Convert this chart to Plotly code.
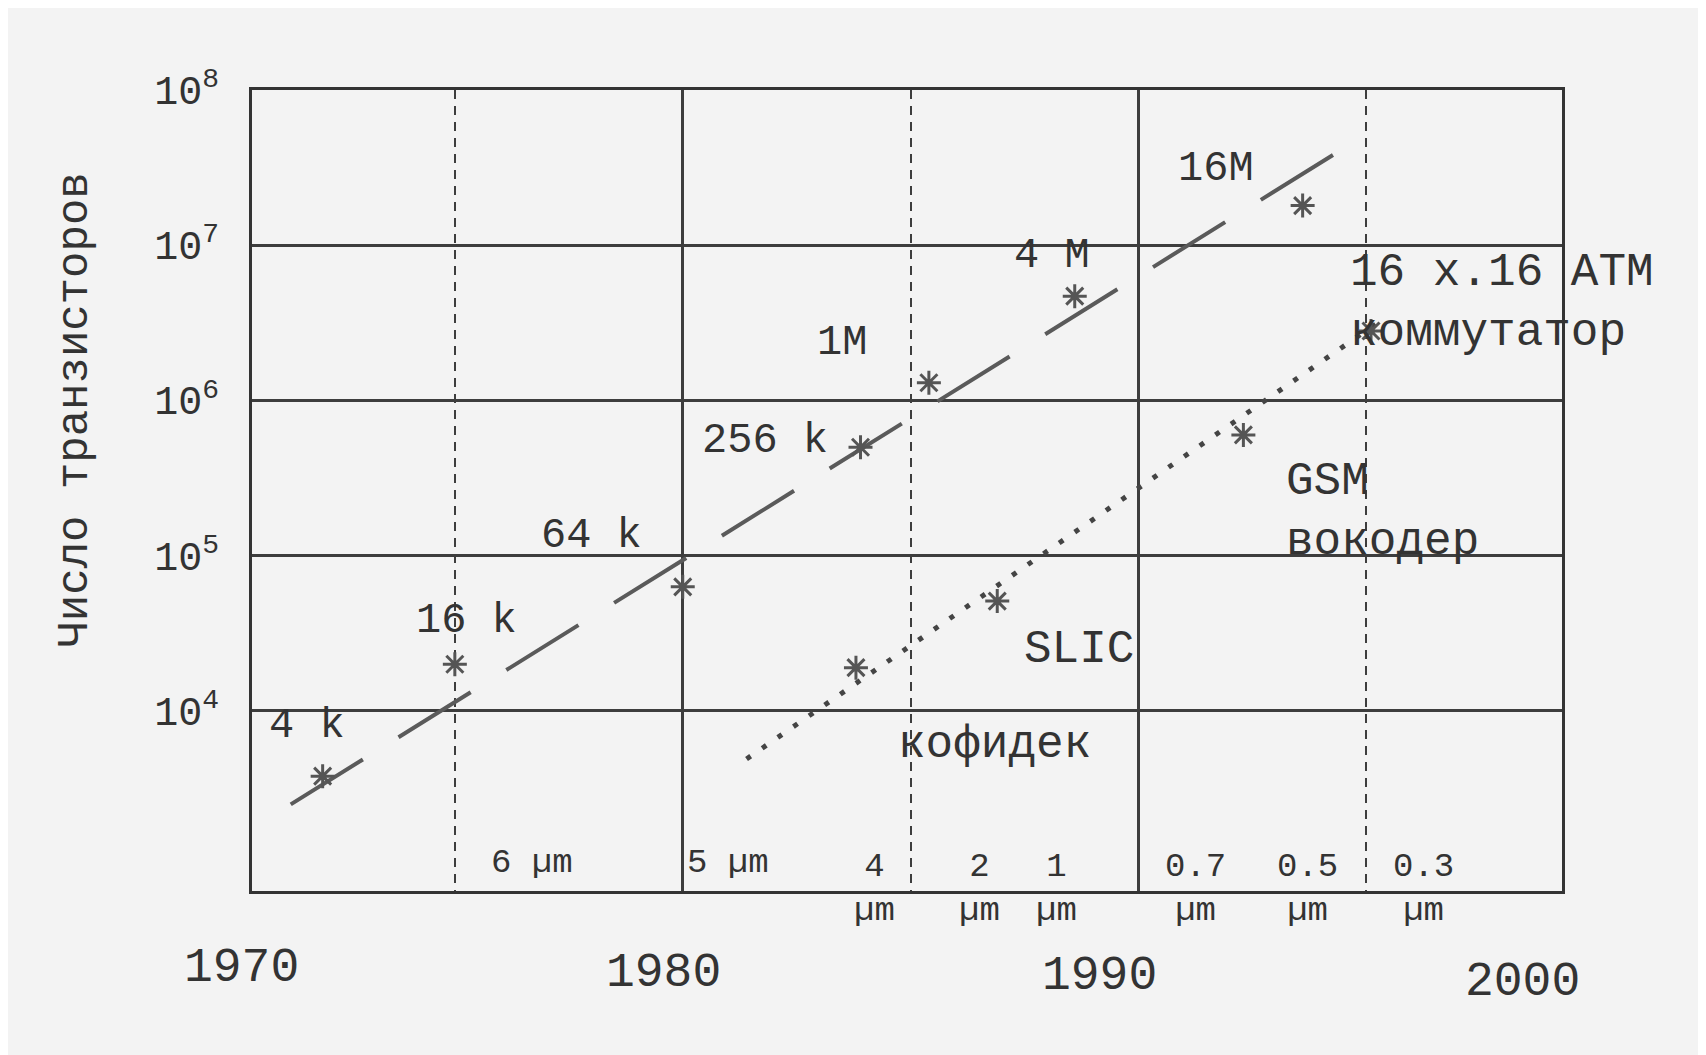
import plotly.graph_objects as go

# decade gridlines and year gridlines
Y_DECADES = [1e4, 1e5, 1e6, 1e7, 1e8]
Y_TICKTEXT = ["10<sup>4</sup>", "10<sup>5</sup>", "10<sup>6</sup>", "10<sup>7</sup>", "10<sup>8</sup>"]
YEARS_SOLID = [1980, 1990]
YEARS_DASHED = [1975, 1985, 1995]
YEAR_LABELS = [1970, 1980, 1990, 2000]
X_RANGE = [1970.55, 1999.29]

# memory chips (DRAM)
MEM_LABELS = ["4 k", "16 k", "64 k", "256 k", "1M", "4 M", "16M"]
MEM_YEARS = [1972.1, 1975.0, 1980.0, 1983.9, 1985.4, 1988.6, 1993.6]
MEM_COUNTS = [3.8e3, 2.0e4, 6.3e4, 5.0e5, 1.3e6, 4.7e6, 1.8e7]
MEM_TREND_YEARS = [1971.4, 1995.0]
MEM_TREND_COUNTS = [2.5e3, 5.2e7]

# telecom chips
TEL_LABELS = ["кофидек", "SLIC", "GSM<br>вокодер", "16 x.16 ATM<br>коммутатор"]
TEL_YEARS = [1983.8, 1986.9, 1992.3, 1995.1]
TEL_COUNTS = [1.9e4, 5.1e4, 6.0e5, 2.8e6]
TEL_TREND_YEARS = [1981.4, 1995.2]
TEL_TREND_COUNTS = [4.9e3, 3.1e6]

# feature size per technology generation
FEATURE_LABELS = ["6 µm", "5 µm", "4<br>µm", "2<br>µm", "1<br>µm", "0.7<br>µm", "0.5<br>µm", "0.3<br>µm"]
FEATURE_YEARS = [1976.7, 1981.0, 1984.2, 1986.5, 1988.2, 1991.25, 1993.7, 1996.25]

# label placement (year, log10 count, anchor)
MEM_LABEL_POS = [(1971.75, 3.90, "center"), (1975.25, 4.58, "center"), (1978.0, 5.13, "center"),
                 (1981.8, 5.74, "center"), (1983.5, 6.37, "center"), (1988.1, 6.93, "center"),
                 (1991.7, 7.49, "center")]
TEL_LABEL_POS = [(1986.85, 3.78, "center"), (1988.7, 4.39, "center"), (1993.2, 5.28, "left"),
                 (1994.6, 6.63, "left")]

INK = "#333333"
LINE = "#5a5a5a"
BG = "#f3f3f3"
FONT = "Liberation Mono, Courier New, monospace"


def year_to_paper(year):
    return (year - X_RANGE[0]) / (X_RANGE[1] - X_RANGE[0])


fig = go.Figure()

fig.add_trace(
    go.Scatter(
        x=MEM_TREND_YEARS,
        y=MEM_TREND_COUNTS,
        mode="lines",
        line={"color": LINE, "width": 4, "dash": "85px,42px"},
        showlegend=False,
    )
)
fig.add_trace(
    go.Scatter(
        x=TEL_TREND_YEARS,
        y=TEL_TREND_COUNTS,
        mode="lines",
        line={"color": "#444444", "width": 5, "dash": "5px,14px"},
        showlegend=False,
    )
)
for xs, ys in ((MEM_YEARS, MEM_COUNTS), (TEL_YEARS, TEL_COUNTS)):
    fig.add_trace(
        go.Scatter(
            x=xs,
            y=ys,
            mode="markers",
            marker={"symbol": "asterisk-open", "size": 20, "color": "#555555",
                    "line": {"color": "#555555", "width": 3}},
            showlegend=False,
        )
    )

annotations = []
for text, (x, ly, anchor) in zip(MEM_LABELS + TEL_LABELS, MEM_LABEL_POS + TEL_LABEL_POS):
    big = text in TEL_LABELS
    annotations.append(
        dict(x=x, y=ly, xref="x", yref="y", text=text, showarrow=False,
             xanchor=anchor, align="left",
             font={"family": FONT, "size": 46 if big else 42, "color": INK})
    )

for text, x in zip(FEATURE_LABELS, FEATURE_YEARS):
    two_line = "<br>" in text
    annotations.append(
        dict(x=x, y=0, xref="x", yref="paper", text=text, showarrow=False,
             xanchor="center", yanchor="middle", yshift=2 if two_line else 28,
             font={"family": FONT, "size": 34, "color": INK})
    )

year_shift = [15, -19, -39, -72]
year_drop = [-77, -82, -85, -91]
for yr, dx, dy in zip(YEAR_LABELS, year_shift, year_drop):
    annotations.append(
        dict(x=year_to_paper(yr), y=0, xref="paper", yref="paper", text=str(yr),
             showarrow=False, xshift=dx, yshift=dy, xanchor="center", yanchor="middle",
             font={"family": FONT, "size": 48, "color": INK})
    )

annotations.append(
    dict(x=-0.135, y=0.60, xref="paper", yref="paper", text="Число транзисторов",
         textangle=-90, showarrow=False, xanchor="center", yanchor="middle",
         font={"family": FONT, "size": 44, "color": INK})
)

fig.update_layout(
    width=1706,
    height=1055,
    paper_bgcolor=BG,
    plot_bgcolor=BG,
    margin={"l": 244, "r": 152, "t": 82, "b": 172},
    font={"family": FONT, "color": INK},
    annotations=annotations,
    showlegend=False,
)
fig.update_xaxes(
    range=X_RANGE,
    tickvals=YEARS_SOLID,
    showticklabels=False,
    ticks="",
    showgrid=True,
    gridcolor="#3d3d3d",
    gridwidth=3,
    minor={"tickvals": YEARS_DASHED, "showgrid": True, "gridcolor": "#3d3d3d",
           "gridwidth": 2, "griddash": "9px,7px", "ticks": ""},
    showline=True,
    linecolor=INK,
    linewidth=3,
    mirror=True,
    zeroline=False,
)
fig.update_yaxes(
    type="log",
    range=[2.84, 8.0],
    tickvals=Y_DECADES,
    ticktext=Y_TICKTEXT,
    tickfont={"family": FONT, "size": 40, "color": INK},
    ticks="",
    ticklabelstandoff=22,
    showgrid=True,
    gridcolor="#3d3d3d",
    gridwidth=3,
    showline=True,
    linecolor=INK,
    linewidth=3,
    mirror=True,
    zeroline=False,
)

fig.write_html("out.html")
